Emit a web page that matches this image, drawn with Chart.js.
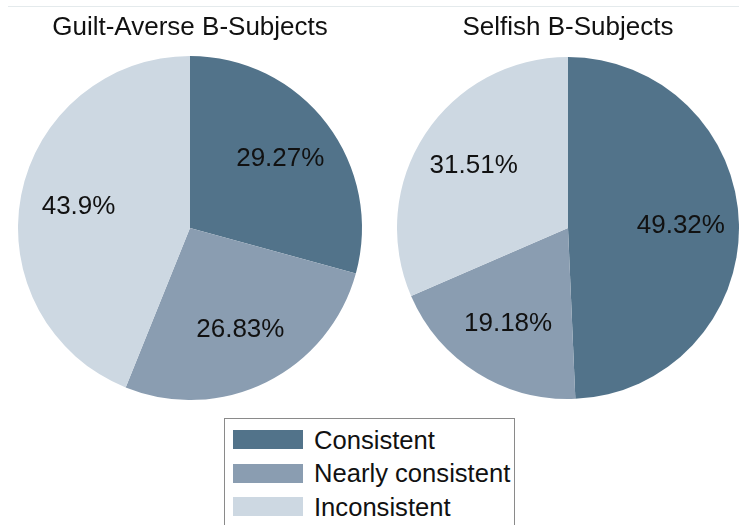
<!DOCTYPE html>
<html>
<head>
<meta charset="utf-8">
<script src="https://cdn.jsdelivr.net/npm/chart.js@4.4.1/dist/chart.umd.min.js"></script>
<style>
  body { margin: 0; background: #fff; width: 739px; height: 525px; position: relative; overflow: hidden;
         font-family: "Liberation Sans", Arial, sans-serif; }
  .rule { position: absolute; top: 6px; left: 8px; right: 0; height: 1px; background: #e4eaec; }
  #pie1 { position: absolute; left: 0; top: 0; }
  #pie2 { position: absolute; left: 397px; top: 0; }
  #legend { position: absolute; left: 224px; top: 418px; width: 291px; height: 120px;
            border: 1px solid #8a8a8a; box-sizing: border-box; }
  .row { position: absolute; left: 8px; height: 33px; display: flex; align-items: center; }
  .sw { width: 70px; height: 19px; margin-right: 11px; }
  .txt { font-size: 25.6px; color: #111; line-height: 26px; white-space: nowrap; }
</style>
</head>
<body>
<div class="rule"></div>
<canvas id="pie1" width="380" height="400"></canvas>
<canvas id="pie2" width="342" height="400"></canvas>
<div id="legend"></div>
<script>
const categories = ['Consistent', 'Nearly consistent', 'Inconsistent'];
const colors = ['#52738a', '#8a9db1', '#cdd8e2'];
const guiltAverse = [29.27, 26.83, 43.9];
const selfish = [49.32, 19.18, 31.51];
const titles = ['Guilt-Averse B-Subjects', 'Selfish B-Subjects'];

const font = '"Liberation Sans", Arial, sans-serif';

// percent text inside each slice, about two thirds out from the centre
const sliceLabels = {
  id: 'sliceLabels',
  afterDatasetsDraw(chart) {
    const ctx = chart.ctx;
    const meta = chart.getDatasetMeta(0);
    const values = chart.data.datasets[0].data;
    ctx.save();
    ctx.font = '26px ' + font;
    ctx.fillStyle = '#111';
    ctx.textAlign = 'center';
    ctx.textBaseline = 'middle';
    meta.data.forEach((arc, i) => {
      const p = arc.getProps(['x', 'y', 'startAngle', 'endAngle', 'outerRadius'], true);
      const mid = (p.startAngle + p.endAngle) / 2;
      const r = p.outerRadius * 0.66;
      ctx.fillText(values[i] + '%', p.x + Math.cos(mid) * r, p.y + Math.sin(mid) * r);
    });
    ctx.restore();
  }
};

function makePie(id, data, title) {
  new Chart(document.getElementById(id), {
    type: 'pie',
    data: {
      labels: categories,
      datasets: [{
        data: data,
        backgroundColor: colors,
        borderWidth: 0,
        hoverOffset: 0
      }]
    },
    options: {
      responsive: false,
      animation: false,
      events: [],
      layout: { padding: 0 },
      plugins: {
        legend: { display: false },
        tooltip: { enabled: false },
        title: {
          display: true,
          text: title,
          color: '#111',
          font: { family: font, size: 26, weight: 'normal', lineHeight: 1.2 },
          padding: { top: 12, bottom: 12.8 }
        }
      }
    },
    plugins: [sliceLabels]
  });
}

makePie('pie1', guiltAverse, titles[0]);
makePie('pie2', selfish, titles[1]);

const legend = document.getElementById('legend');
categories.forEach((c, i) => {
  const row = document.createElement('div');
  row.className = 'row';
  row.style.top = (4 + i * 33.5) + 'px';
  row.innerHTML = '<div class="sw" style="background:' + colors[i] + '"></div><div class="txt">' + c + '</div>';
  legend.appendChild(row);
});
</script>
</body>
</html>
